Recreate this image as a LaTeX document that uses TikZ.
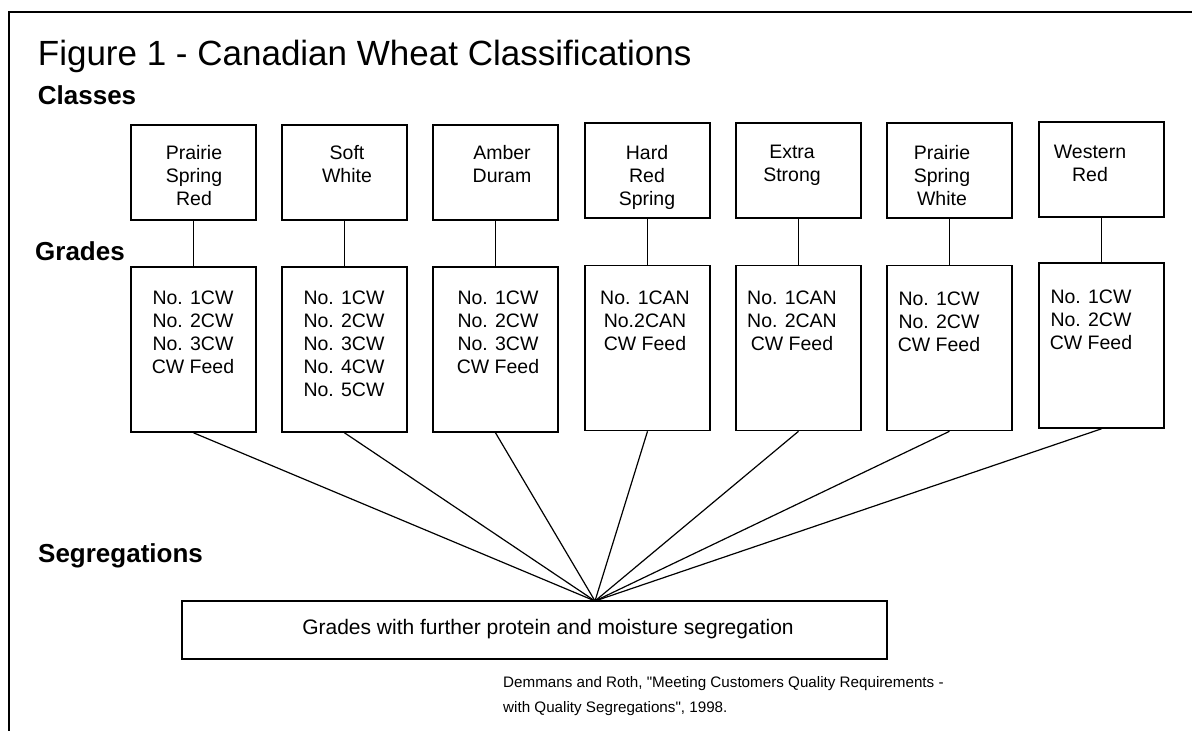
\documentclass[tikz,border=0pt]{standalone}
\usepackage{fontspec}
\setmainfont{Liberation Sans}
\usepackage{tikz}

\tikzset{
  classbox/.style={draw, line width=1.6pt, minimum width=125pt, minimum height=95pt, inner sep=0pt},
  gradebox/.style={draw, line width=1.6pt, minimum width=125pt, minimum height=165pt, inner sep=0pt},
  boxtext/.style={anchor=north, inner sep=0pt, align=center, font=\fontsize{19.5}{23}\selectfont},
  heading/.style={anchor=base west, inner sep=0pt, font=\bfseries\fontsize{26}{30}\selectfont},
  fanline/.style={line width=1.2pt},
  stem/.style={line width=1.6pt}
}

\begin{document}
\begin{tikzpicture}[x=1pt,y=-1pt]
    \useasboundingbox (0,0) rectangle (1192,731);
    \draw[line width=2pt] (9,731) -- (9,12.3) -- (1192,12.3);
    \node[anchor=base west, inner sep=0pt, font=\fontsize{35}{40}\selectfont] (title) at (37.7,65)
      {Figure 1 - Canadian Wheat Classifications};
    \node[heading] (classes) at (37.7,104) {Classes};
    \node[heading] (grades) at (35,260) {Grades};
    \node[heading] (segs) at (38,562) {Segregations};

    \node[classbox] (c1) at (193.5,172.5) {};
    \node[classbox] (c2) at (344.5,172.5) {};
    \node[classbox] (c3) at (495.5,172.5) {};
    \node[classbox] (c4) at (647.5,170.5) {};
    \node[classbox] (c5) at (798.5,170.5) {};
    \node[classbox] (c6) at (949.5,170.5) {};
    \node[classbox] (c7) at (1101.5,169.5) {};
    \node[boxtext] (ct1) at (194,145) {Prairie\\Spring\\Red};
    \node[boxtext] (ct2) at (347,145) {Soft\\White};
    \node[boxtext] (ct3) at (502,145) {Amber\\Duram};
    \node[boxtext] (ct4) at (647,145) {Hard\\Red\\Spring};
    \node[boxtext] (ct5) at (792,145) {Extra\\Strong};
    \node[boxtext] (ct6) at (942,145) {Prairie\\Spring\\White};
    \node[boxtext] (ct7) at (1090,145) {Western\\Red};

    \node[gradebox] (g1) at (193.5,349.5) {};
    \node[gradebox] (g2) at (344.5,349.5) {};
    \node[gradebox] (g3) at (495.5,349.5) {};
    \node[gradebox] (g4) at (647.5,348) {};
    \node[gradebox] (g5) at (798.5,348) {};
    \node[gradebox] (g6) at (949.5,348) {};
    \node[gradebox] (g7) at (1101.5,345.5) {};
    \node[boxtext] (gt1) at (193,291) {No. 1CW\\No. 2CW\\No. 3CW\\CW Feed};
    \node[boxtext] (gt2) at (344,291) {No. 1CW\\No. 2CW\\No. 3CW\\No. 4CW\\No. 5CW};
    \node[boxtext] (gt3) at (498,291) {No. 1CW\\No. 2CW\\No. 3CW\\CW Feed};
    \node[boxtext] (gt4) at (645,291) {No. 1CAN\\No.2CAN\\CW Feed};
    \node[boxtext] (gt5) at (792,291) {No. 1CAN\\No. 2CAN\\CW Feed};
    \node[boxtext] (gt6) at (939,292) {No. 1CW\\No. 2CW\\CW Feed};
    \node[boxtext] (gt7) at (1091,290) {No. 1CW\\No. 2CW\\CW Feed};

    \draw[stem] (c1.south) -- (g1.north);
    \draw[stem] (c2.south) -- (g2.north);
    \draw[stem] (c3.south) -- (g3.north);
    \draw[stem] (c4.south) -- (g4.north);
    \draw[stem] (c5.south) -- (g5.north);
    \draw[stem] (c6.south) -- (g6.north);
    \draw[stem] (c7.south) -- (g7.north);

    \node[draw, line width=1.6pt, minimum width=705pt, minimum height=58pt, inner sep=0pt] (seg) at (534.5,630) {};
    \node[anchor=base, inner sep=0pt, font=\fontsize{21}{25}\selectfont] (segtext) at (548,634)
      {Grades with further protein and moisture segregation};
    \coordinate (hub) at (595,601);
    \draw[fanline] (g1.south) -- (hub);
    \draw[fanline] (g2.south) -- (hub);
    \draw[fanline] (g3.south) -- (hub);
    \draw[fanline] (g4.south) -- (hub);
    \draw[fanline] (g5.south) -- (hub);
    \draw[fanline] (g6.south) -- (hub);
    \draw[fanline] (g7.south) -- (hub);

    \node[anchor=north west, inner sep=0pt, align=left, font=\fontsize{15.2}{25}\selectfont] (source) at (503,676)
      {Demmans and Roth, \textquotedbl Meeting Customers Quality Requirements -\\with Quality Segregations\textquotedbl, 1998.};
\end{tikzpicture}
\end{document}
